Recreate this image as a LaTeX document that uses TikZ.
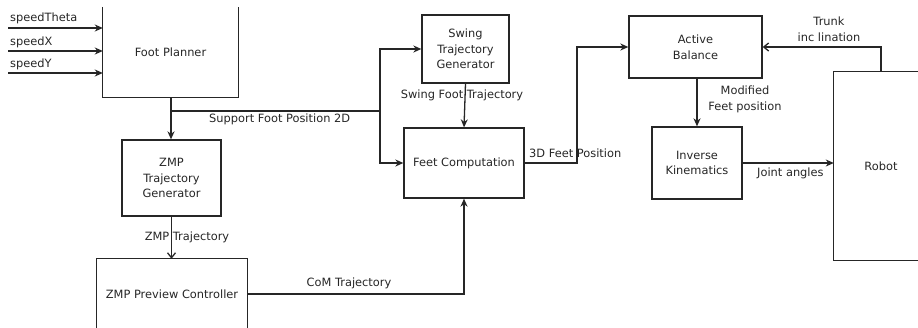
\documentclass[tikz,border=0pt]{standalone}
\usepackage{fontspec}
\setmainfont{DejaVu Sans}
\usetikzlibrary{arrows.meta}
\begin{document}
\begin{tikzpicture}[x=1pt,y=-1pt,
  every node/.style={font=\fontsize{11.4}{15.5}\selectfont, inner sep=0pt, text=black!85},
  blk/.style={draw=black!85, line width=1.3pt, align=center},
  openblk/.style={align=center},
  edge/.style={draw=black!85, line width=1.3pt},
  arr/.style={edge, -{Stealth[length=8pt,width=7pt,inset=2.5pt]}},
  oarr/.style={edge, -{Straight Barb[length=5pt,width=8pt]}}]
\useasboundingbox (0,0) rectangle (918,327);
% blocks
\node[openblk, minimum width=135pt, minimum height=90pt] (fp) at (170.5,52) {Foot Planner};
\draw[edge] (fp.north west) -- (fp.south west) -- (fp.south east) -- (fp.north east);
\node[blk, minimum width=87pt, minimum height=68pt] (swing) at (465.5,49) {Swing\\Trajectory\\Generator};
\node[blk, minimum width=120pt, minimum height=70pt] (feet) at (464,163) {Feet Computation};
\node[blk, minimum width=133pt, minimum height=62pt] (ab) at (695.5,47) {Active\\Balance};
\node[blk, minimum width=90pt, minimum height=72pt] (ik) at (697,163) {Inverse\\Kinematics};
\node[openblk, minimum width=94pt, minimum height=188pt] (robot) at (881,166) {Robot};
\draw[edge] (robot.north east) -- (robot.north west) -- (robot.south west) -- (robot.south east);
\node[blk, minimum width=99pt, minimum height=76pt] (zmpg) at (171.5,178) {ZMP\\Trajectory\\Generator};
\node[openblk, minimum width=150pt, minimum height=70pt] (zpc) at (172,294) {ZMP Preview Controller};
\draw[edge] (zpc.south west) -- (zpc.north west) -- (zpc.north east) -- (zpc.south east);
% inputs
\coordinate (in1) at (8,28);
\coordinate (in2) at (8,51);
\coordinate (in3) at (8,73);
\draw[arr] (in1) -- (in1 -| fp.west);
\draw[arr] (in2) -- (in2 -| fp.west);
\draw[arr] (in3) -- (in3 -| fp.west);
\node[anchor=west] (l1) at (10,18) {speedTheta};
\node[anchor=west] (l2) at (10,42) {speedX};
\node[anchor=west] (l3) at (10,64) {speedY};
% foot planner outputs
\coordinate (j1) at (171,111);
\coordinate (split) at (380,111);
\draw[arr] (fp.south -| j1) -- (j1 |- zmpg.north);
\draw[edge] (j1) -- (split);
\draw[arr] (split) |- (swing.west);
\draw[arr] (split) |- (feet.west);
\node[anchor=west] (lsf) at (209,119) {Support Foot Position 2D};
% swing to feet
\draw[arr] (swing.south) -- (feet.north);
\node (lsw) at (462,95) {Swing Foot Trajectory};
% feet to active balance
\coordinate (c3d) at (577,163);
\draw[arr] (feet.east) -- (c3d) |- (ab.west);
\node[anchor=west] (l3d) at (529,153) {3D Feet Position};
% robot to active balance
\draw[oarr] (robot.north) |- (ab.east);
\node[align=center] (ltr) at (829,29) {Trunk\\inc lination};
% active balance to ik
\draw[arr] (ab.south -| ik.north) -- (ik.north);
\node[align=center] (lmf) at (745,99.5) {Modified\\Feet position};
% ik to robot
\draw[arr] (ik.east) -- (ik.east -| robot.west);
\node[anchor=west] (lja) at (757,173) {Joint angles};
% zmp gen to preview
\draw[oarr] (zmpg.south) -- (zmpg.south |- zpc.north);
\node (lzt) at (187,237) {ZMP Trajectory};
% preview to feet
\draw[arr] (zpc.east) -| (feet.south);
\node (lcom) at (349,283) {CoM Trajectory};
\end{tikzpicture}
\end{document}
